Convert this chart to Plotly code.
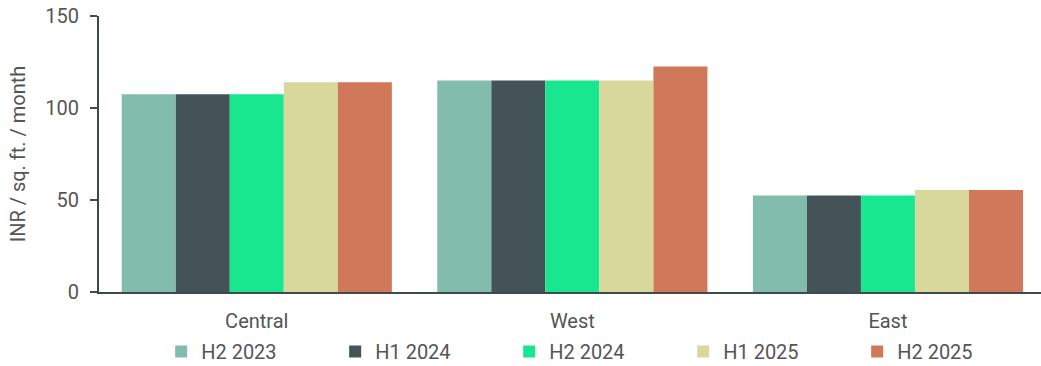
import plotly.graph_objects as go

regions = ["Central", "West", "East"]
periods = ["H2 2023", "H1 2024", "H2 2024", "H1 2025", "H2 2025"]
colors = ["#82bcad", "#435357", "#19e78f", "#d9d89c", "#d2785a"]

h2_2023 = [107.5, 115, 52.5]
h1_2024 = [107.5, 115, 52.5]
h2_2024 = [107.5, 115, 52.5]
h1_2025 = [114, 115, 55.5]
h2_2025 = [114, 122.5, 55.5]
series = [h2_2023, h1_2024, h2_2024, h1_2025, h2_2025]

text_color = "#555555"
axis_color = "#3f4a4d"
font_family = "Roboto, 'Open Sans', sans-serif"
fs = 20

fig = go.Figure()
for name, vals, col in zip(periods, series, colors):
    fig.add_trace(go.Bar(x=regions, y=vals, name=name, marker=dict(color=col, line=dict(width=0))))

fig.update_layout(
    width=1041,
    height=366,
    margin=dict(l=99, r=0, t=16, b=74, autoexpand=False),
    paper_bgcolor="white",
    plot_bgcolor="white",
    barmode="group",
    bargap=0.144,
    bargroupgap=0,
    font=dict(family=font_family, size=fs, color=text_color),
    showlegend=True,
    legend=dict(
        orientation="h",
        x=0.066,
        xanchor="left",
        y=-0.145,
        yanchor="top",
        entrywidth=129,
        entrywidthmode="pixels",
        itemwidth=30,
        font=dict(size=fs, color=text_color),
        traceorder="normal",
    ),
    xaxis=dict(
        range=[-0.5, 2.485],
        showline=True,
        linecolor=axis_color,
        linewidth=2,
        ticks="",
        ticklabelstandoff=10,
        showgrid=False,
        tickfont=dict(size=fs, color=text_color),
    ),
    yaxis=dict(
        range=[0, 150],
        tickvals=[0, 50, 100, 150],
        showline=True,
        linecolor=axis_color,
        linewidth=2,
        ticks="outside",
        ticklen=7,
        tickwidth=2,
        tickcolor=axis_color,
        ticklabelstandoff=7,
        showgrid=False,
        zeroline=False,
        tickfont=dict(size=fs, color=text_color),
        title=dict(text="INR / sq. ft. / month", font=dict(size=fs, color=text_color), standoff=14),
    ),
)

fig.write_html("out.html")
